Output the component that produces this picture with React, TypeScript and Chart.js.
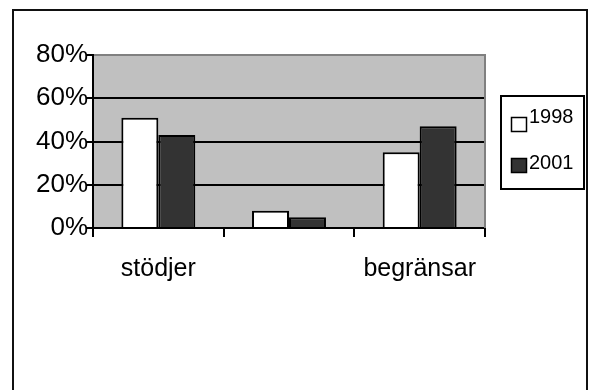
import { useEffect, useRef } from "react";
import { Chart, registerables } from "chart.js";

Chart.register(...registerables);

// Answer categories (the middle one carries no label)
const categories = ["stödjer", "", "begränsar"];
// Survey years
const seriesNames = ["1998", "2001"];
// Share of respondents, percent
const values1998 = [51, 8, 35];
const values2001 = [43, 5, 47];
// Value axis
const yTicks = [0, 20, 40, 60, 80];

const FONT = "'Liberation Sans', Arial, sans-serif";

const plotBackground = {
  id: "plotBackground",
  beforeDraw(chart: any) {
    const { ctx, chartArea } = chart;
    ctx.save();
    ctx.fillStyle = "#C0C0C0";
    ctx.fillRect(chartArea.left, chartArea.top, chartArea.right - chartArea.left, chartArea.bottom - chartArea.top);
    ctx.restore();
  },
};

const frameAndLegend = {
  id: "frameAndLegend",
  afterDraw(chart: any) {
    const { ctx, chartArea } = chart;
    ctx.save();
    // right edge of the plot area
    ctx.strokeStyle = "#808080";
    ctx.lineWidth = 2;
    ctx.beginPath();
    ctx.moveTo(chartArea.right, chartArea.top - 1);
    ctx.lineTo(chartArea.right, chartArea.bottom);
    ctx.stroke();

    // outer chart border
    ctx.strokeStyle = "#111";
    ctx.lineWidth = 2;
    ctx.strokeRect(13, 10, 574, 400);

    // legend box
    ctx.strokeStyle = "#000";
    ctx.lineWidth = 2;
    ctx.strokeRect(501, 96, 83, 93);
    const rows = [
      { sq: 117, text: 117 },
      { sq: 158, text: 163 },
    ];
    ctx.font = `20px ${FONT}`;
    ctx.textBaseline = "middle";
    ctx.textAlign = "left";
    chart.data.datasets.forEach((ds: any, i: number) => {
      const r = rows[i];
      ctx.fillStyle = ds.backgroundColor;
      ctx.fillRect(511.5, r.sq + 0.5, 15, 14);
      ctx.lineWidth = 1.5;
      ctx.strokeStyle = "#000";
      ctx.strokeRect(511.5, r.sq + 0.5, 15, 14);
      ctx.fillStyle = "#000";
      ctx.fillText(ds.label, 529, r.text);
    });
    ctx.restore();
  },
};

export default function App() {
  const canvasRef = useRef<HTMLCanvasElement | null>(null);

  useEffect(() => {
    const canvas = canvasRef.current;
    if (!canvas) return;
    const chart = new Chart(canvas, {
      type: "bar",
      data: {
        labels: categories,
        datasets: [
          {
            label: seriesNames[0],
            data: values1998,
            backgroundColor: "#FFFFFF",
            borderColor: "#000000",
            borderWidth: 2,
          },
          {
            label: seriesNames[1],
            data: values2001,
            backgroundColor: "#333333",
            borderColor: "#000000",
            borderWidth: 2,
          },
        ],
      },
      options: {
        responsive: false,
        animation: false,
        events: [],
        layout: { padding: { top: 55, right: 104, left: 0, bottom: 0 } },
        datasets: {
          bar: { barPercentage: 1, categoryPercentage: 0.566 },
        },
        plugins: {
          legend: { display: false },
          tooltip: { enabled: false },
        },
        scales: {
          x: {
            offset: true,
            grid: {
              offset: true,
              drawOnChartArea: false,
              drawTicks: true,
              tickLength: 9,
              color: "#000",
              lineWidth: 2,
            },
            border: { display: true, color: "#000", width: 2 },
            ticks: {
              color: "#000",
              font: { family: FONT, size: 25 },
              padding: 17,
              maxRotation: 0,
              autoSkip: false,
            },
            afterFit(scale: any) {
              scale.height = 162;
            },
          },
          y: {
            min: yTicks[0],
            max: yTicks[yTicks.length - 1],
            afterBuildTicks(scale: any) {
              scale.ticks = yTicks.map((v) => ({ value: v }));
            },
            grid: {
              color: (c: any) => (c.tick && c.tick.value === yTicks[yTicks.length - 1] ? "#808080" : "#000"),
              tickColor: "#000",
              lineWidth: 2,
              drawTicks: true,
              tickLength: 7,
            },
            border: { display: true, color: "#000", width: 2 },
            ticks: {
              color: "#000",
              font: { family: FONT, size: 26 },
              padding: -2,
              callback: (v: any) => `${v}%`,
            },
            afterFit(scale: any) {
              scale.width = 93;
            },
          },
        },
      },
      plugins: [plotBackground, frameAndLegend],
    });
    return () => chart.destroy();
  }, []);

  return (
    <div style={{ position: "fixed", left: 0, top: 0, width: 589, height: 390, background: "#fff" }}>
      <canvas ref={canvasRef} width={589} height={390} style={{ display: "block", width: 589, height: 390 }} />
    </div>
  );
}
